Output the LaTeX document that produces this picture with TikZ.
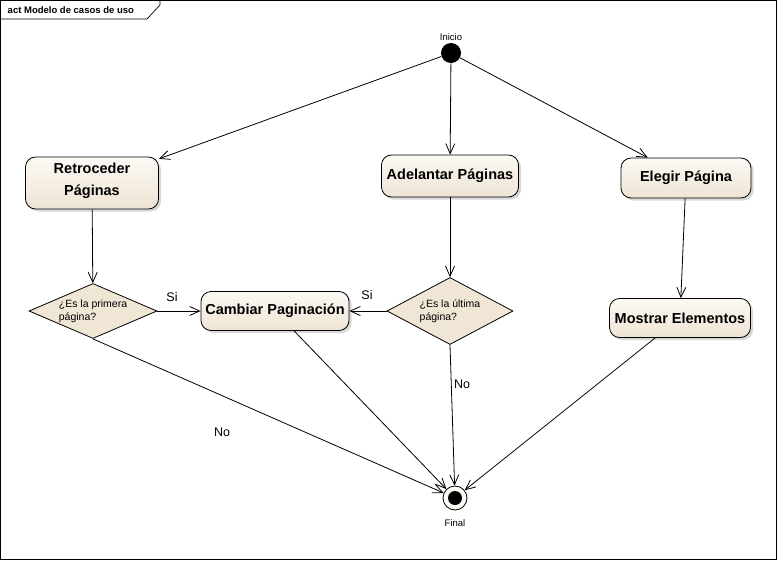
\documentclass[tikz,border=0pt]{standalone}
\usepackage{fontspec}
\setmainfont{Liberation Sans}
\usetikzlibrary{shapes.geometric,arrows.meta,shadows}
\definecolor{acttop}{RGB}{252,249,244}
\definecolor{actbottom}{RGB}{238,228,212}
\definecolor{decfill}{RGB}{240,230,214}

\begin{document}
\begin{tikzpicture}
  [x=1pt,y=-1pt,line width=0.8pt,>={Straight Barb[length=10pt,width=9pt]},
   action/.style={draw,rounded corners=10pt,top color=acttop,bottom color=actbottom,
     drop shadow={shadow xshift=2.5pt,shadow yshift=-2.5pt,fill=black!30},
     font=\fontsize{14.5}{17}\selectfont\bfseries,align=center,inner sep=2pt},
   decision/.style={draw,diamond,aspect=2.4,fill=decfill,inner sep=0pt,
     font=\fontsize{10.5}{13}\selectfont,align=left},
   small/.style={font=\fontsize{9.5}{11}\selectfont},
   guard/.style={font=\fontsize{12.5}{14}\selectfont}]
  \useasboundingbox (0,0) rectangle (777,560);
  \draw[line width=0.7pt] (0.5,0.5) rectangle (776.5,559.5);
  \draw[line width=0.7pt] (0.5,19) -- (147,19) -- (160,5) -- (160,0.5);
  \node[anchor=west,font=\fontsize{9.5}{11}\selectfont\bfseries] (title) at (4,10) {act Modelo de casos de uso};

  \node[circle,fill=black,minimum size=20pt,inner sep=0pt,
    label={[small,label distance=-2pt]above:Inicio}] (1) at (451,53) {};
  \node[action,minimum width=133pt,minimum height=52pt,text depth=8pt] (2) at (92,183) {Retroceder\\[5pt]Páginas};
  \node[action,minimum width=137pt,minimum height=42pt] (3) at (450,176) {Adelantar Páginas};
  \node[action,minimum width=130pt,minimum height=40pt] (4) at (686,178) {Elegir Página};
  \node[decision,minimum width=128pt,minimum height=55pt] (5) at (93,311) {¿Es la primera\\página?};
  \node[action,minimum width=148pt,minimum height=39pt] (6) at (275,311) {Cambiar Paginación};
  \node[decision,minimum width=126pt,minimum height=67pt] (7) at (450,311) {¿Es la última\\página?};
  \node[action,minimum width=141pt,minimum height=39pt] (8) at (680,318) {Mostrar Elementos};
  \node[circle,draw,fill=acttop,minimum size=24pt,inner sep=0pt,
    label={[small,label distance=5pt]below:Final}] (9) at (455,498) {};
  \fill (9.center) circle (7pt);

  \node[guard] (si1) at (172,297) {Si};
  \node[guard] (si2) at (367,295) {Si};
  \node[guard] (no1) at (222,432) {No};
  \node[guard] (no2) at (462,384) {No};

  \foreach \from/\to in {1/2,1/3,1/4,2/5,3/7,4/8,5/6,7/6,5.south/9,6/9,7.south/9,8/9}
    \draw[->] (\from) -- (\to);

\end{tikzpicture}
\end{document}
